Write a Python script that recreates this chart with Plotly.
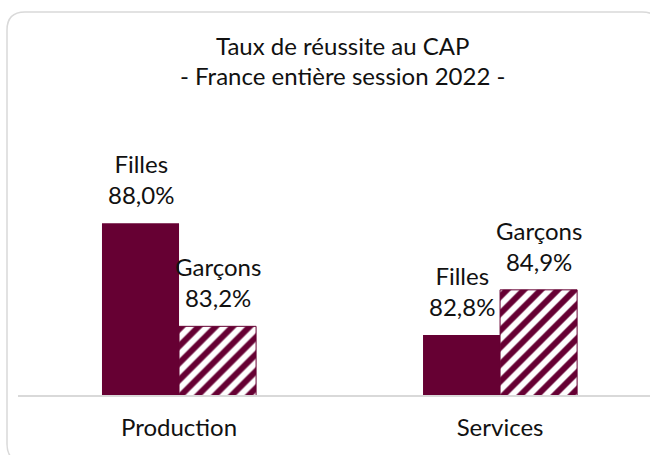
import plotly.graph_objects as go

categories = ["Production", "Services"]
cat_pos = [0, 1]
filles = [88.0, 82.8]
garcons = [83.2, 84.9]
series_names = ["Filles", "Garçons"]
title_lines = ["Taux de réussite au CAP", "- France entière session 2022 -"]

MAROON = "#660033"
FONT = "Lato"
FS = 24
W, H = 650, 455
ML, MR, MT, MB = 18, 0, 100, 60
BW = 0.24

def fmt(v):
    return f"{v:.1f}".replace(".", ",") + "%"

fig = go.Figure()
fig.add_trace(go.Bar(x=cat_pos, y=filles, name=series_names[0], width=BW, offset=-BW,
                     marker=dict(color=MAROON, line=dict(width=0)), showlegend=False))
fig.add_trace(go.Bar(x=cat_pos, y=garcons, name=series_names[1], width=BW, offset=0,
                     marker=dict(color="white", line=dict(color=MAROON, width=1),
                                 pattern=dict(shape="/", fgcolor=MAROON, bgcolor="white",
                                              fgopacity=1, size=12, solidity=0.5)),
                     showlegend=False))

pw, ph = W - ML - MR, H - MT - MB
def px2paper(px, py):
    return (px - ML) / pw, (H - MB - py) / ph

lab_font = dict(family=FONT, size=FS, color="#111")
ann = []
for xi, v in zip(cat_pos, filles):
    ann.append(dict(x=xi - BW / 2, y=v, xref="x", yref="y", text=f"{series_names[0]}<br>{fmt(v)}",
                    showarrow=False, yanchor="bottom", xanchor="center", yshift=12, font=lab_font))
for xi, v in zip(cat_pos, garcons):
    ann.append(dict(x=xi + BW / 2, y=v, xref="x", yref="y", text=f"{series_names[1]}<br>{fmt(v)}",
                    showarrow=False, yanchor="bottom", xanchor="center", yshift=12, font=lab_font))
tx, ty1 = px2paper(342, 45)
_, ty2 = px2paper(342, 76)
ann.append(dict(x=tx, y=ty1, xref="paper", yref="paper", text=title_lines[0],
                showarrow=False, xanchor="center", yanchor="middle", font=lab_font))
ann.append(dict(x=tx, y=ty2, xref="paper", yref="paper", text=title_lines[1],
                showarrow=False, xanchor="center", yanchor="middle", font=lab_font))

# rounded border
L, T, R, B, rad = 7, 12, 660, 462, 18
def P(px, py):
    x, y = px2paper(px, py)
    return f"{x:.5f},{y:.5f}"
path = (f"M {P(L + rad, T)} L {P(R - rad, T)} Q {P(R, T)} {P(R, T + rad)} "
        f"L {P(R, B - rad)} Q {P(R, B)} {P(R - rad, B)} L {P(L + rad, B)} "
        f"Q {P(L, B)} {P(L, B - rad)} L {P(L, T + rad)} Q {P(L, T)} {P(L + rad, T)} Z")

fig.update_layout(
    width=W, height=H, margin=dict(l=ML, r=MR, t=MT, b=MB),
    paper_bgcolor="white", plot_bgcolor="white", barmode="overlay",
    annotations=ann,
    shapes=[dict(type="path", path=path, xref="paper", yref="paper",
                 line=dict(color="#d9d9d9", width=1.5), fillcolor="rgba(0,0,0,0)", layer="below")],
    xaxis=dict(tickmode="array", tickvals=cat_pos, ticktext=categories,
               range=[-0.5016, 1.467], showline=True, linecolor="#d9d9d9", linewidth=1.5,
               showgrid=False, zeroline=False, ticks="", ticklabelstandoff=10,
               tickfont=lab_font, fixedrange=True),
    yaxis=dict(range=[80, 80 + 295 / 21.46], visible=False, showgrid=False, fixedrange=True),
)

fig.write_html("out.html", config={"displayModeBar": False},
               post_script="document.body.style.margin='0';document.body.style.overflow='hidden';")
